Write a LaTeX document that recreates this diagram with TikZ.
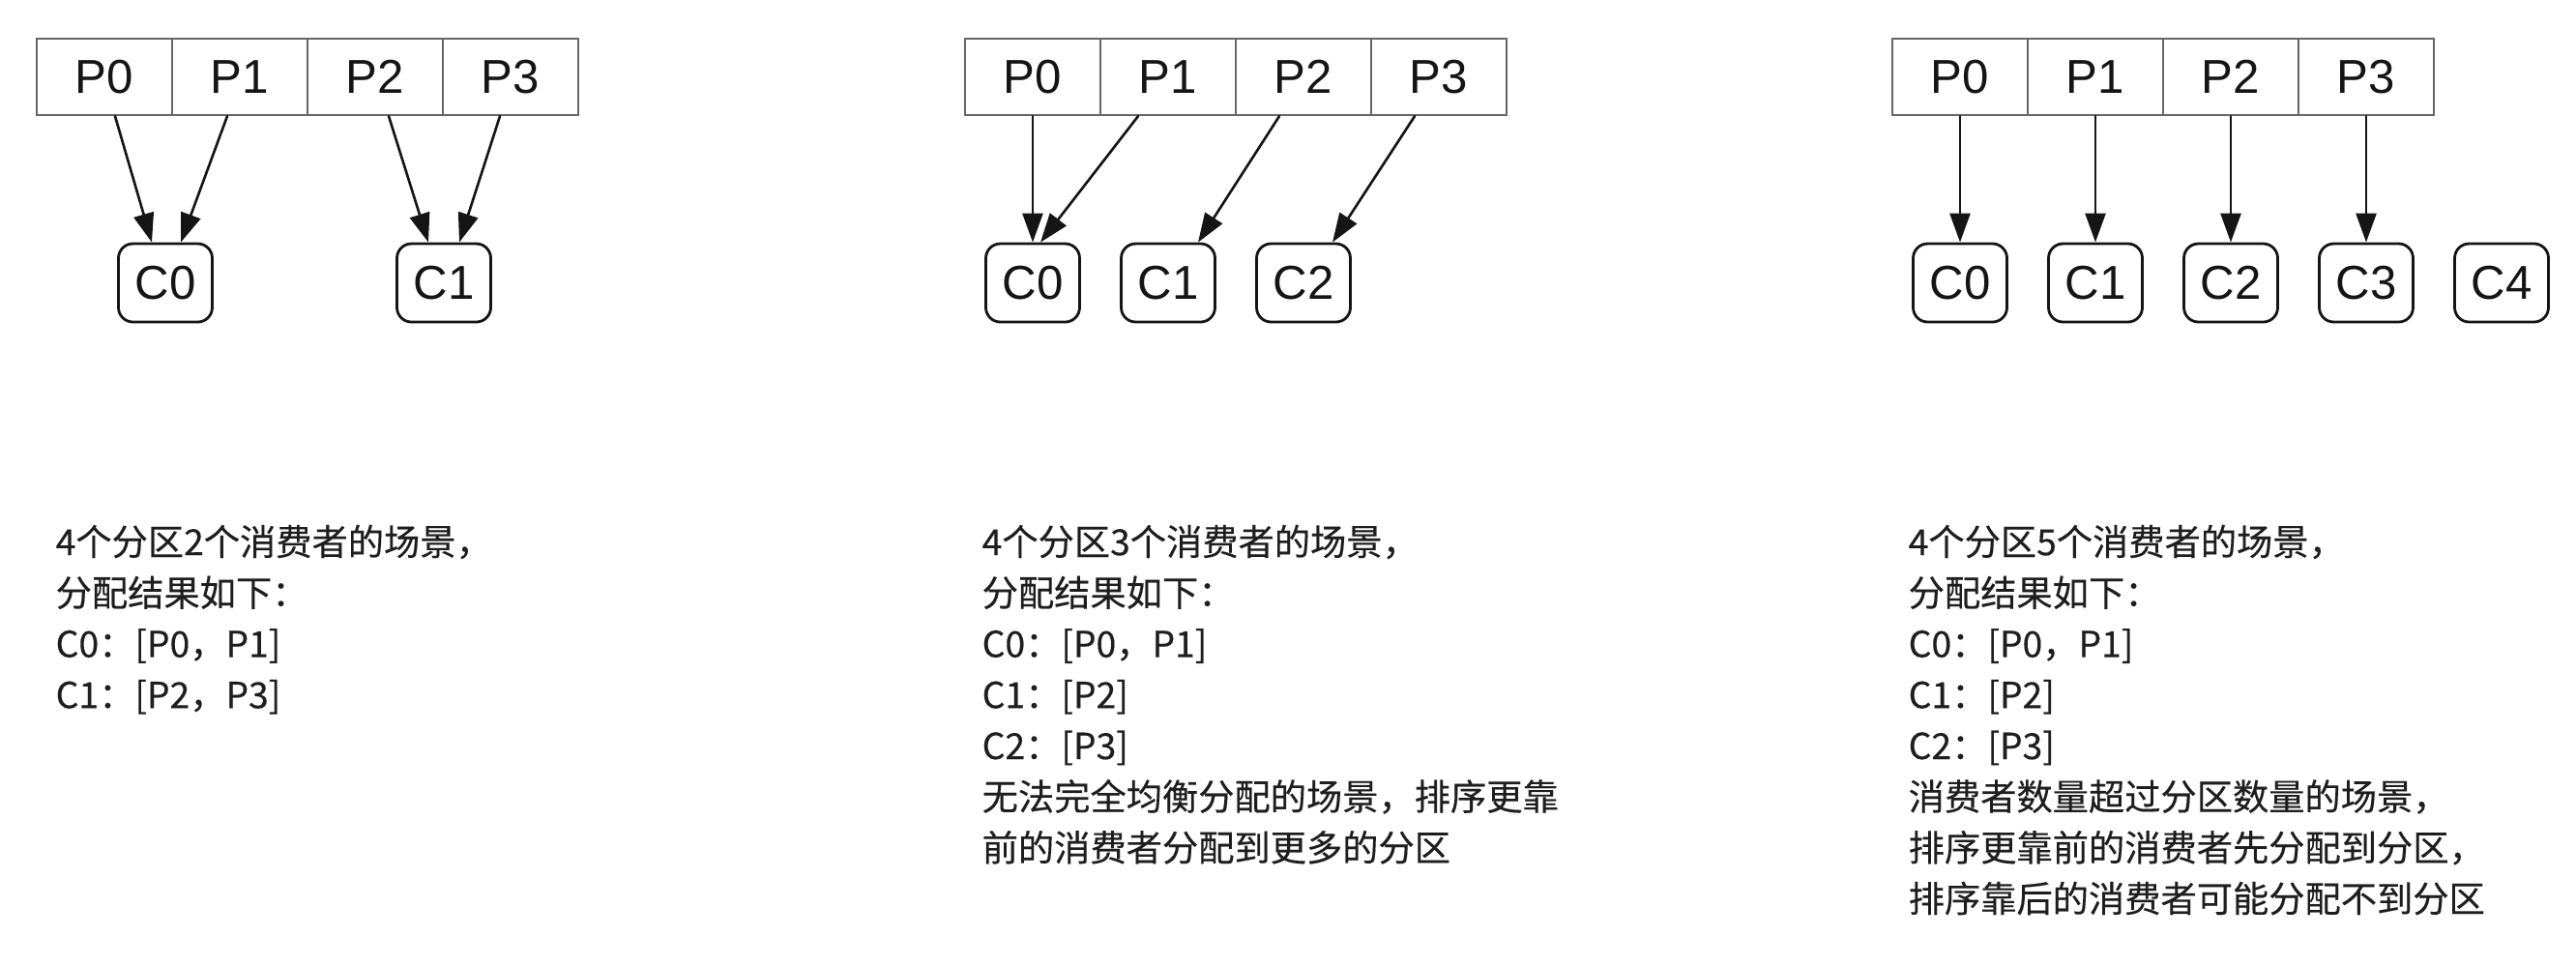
\documentclass[tikz,border=0pt]{standalone}
\usepackage{fontspec}
\setmainfont{Liberation Sans}
\newfontfamily\cjk[FakeBold=0.3]{Noto Sans CJK SC}
\usetikzlibrary{arrows.meta,positioning,calc}
\definecolor{kfgray}{HTML}{666666}
\definecolor{kfink}{HTML}{151515}
\definecolor{kftext}{HTML}{1E1E1E}

\begin{document}
\begin{tikzpicture}[
  x=1cm, y=1cm,
  font=\fontsize{14}{16}\selectfont,
  >={Triangle[length=0.30cm,width=0.21cm]},
  line cap=round,
  part/.style={draw=kfgray, line width=0.65pt, minimum width=1.40cm, minimum height=0.79cm, inner sep=0pt, text=kfink},
  cons/.style={draw=kfink, line width=0.8pt, rounded corners=0.15cm, minimum width=0.97cm, minimum height=0.81cm, inner sep=0pt, text=kfink},
  assign/.style={->, draw=kfink, line width=0.75pt},
  note/.style={anchor=north west, align=left, inner sep=0pt, text=kftext, font=\cjk\fontsize{10.6}{15}\selectfont},
]
\useasboundingbox (0,0) rectangle (26.64,-9.98);

% ---------- (a) 4 partitions, 2 consumers ----------
\begin{scope}[shift={(0.38,0)}]
  \foreach \i in {0,...,3}
    \node[part] (a\i) at ({0.70+1.40*\i},-0.795) {P\i};
  \node[cons] (ac0) at (1.33,-2.925) {C0};
  \node[cons] (ac1) at (4.21,-2.925) {C1};
  \draw[assign] ([xshift=0.11cm]a0.south) -- ([xshift=-0.14cm]ac0.north);
  \draw[assign] ([xshift=-0.13cm]a1.south) -- ([xshift=0.16cm]ac0.north);
  \draw[assign] ([xshift=0.14cm]a2.south) -- ([xshift=-0.16cm]ac1.north);
  \draw[assign] ([xshift=-0.11cm]a3.south) -- ([xshift=0.16cm]ac1.north);
  \node[note] (anote) at (0.19,-5.42) {4个分区2个消费者的场景，\\
    分配结果如下：\\
    C0：[P0，P1]\\
    C1：[P2，P3]};
\end{scope}

% ---------- (b) 4 partitions, 3 consumers ----------
\begin{scope}[shift={(9.98,0)}]
  \foreach \i in {0,...,3}
    \node[part] (b\i) at ({0.70+1.40*\i},-0.795) {P\i};
  \foreach \i in {0,...,2}
    \node[cons] (bc\i) at ({0.70+1.40*\i},-2.925) {C\i};
  \draw[assign] (b0.south) -- (bc0.north);
  \draw[assign] ([xshift=-0.31cm]b1.south) -- ([xshift=0.08cm]bc0.north);
  \draw[assign] ([xshift=-0.25cm]b2.south) -- ([xshift=0.31cm]bc1.north);
  \draw[assign] ([xshift=-0.25cm]b3.south) -- ([xshift=0.30cm]bc2.north);
  \node[note] (bnote) at (0.17,-5.42) {4个分区3个消费者的场景，\\
    分配结果如下：\\
    C0：[P0，P1]\\
    C1：[P2]\\
    C2：[P3]\\
    无法完全均衡分配的场景，排序更靠\\
    前的消费者分配到更多的分区};
\end{scope}

% ---------- (c) 4 partitions, 5 consumers ----------
\begin{scope}[shift={(19.57,0)}]
  \foreach \i in {0,...,3}
    \node[part] (c\i) at ({0.70+1.40*\i},-0.795) {P\i};
  \foreach \i in {0,...,4}
    \node[cons] (cc\i) at ({0.70+1.40*\i},-2.925) {C\i};
  \foreach \i in {0,...,3}
    \draw[assign] (c\i.south) -- (cc\i.north);
  \node[note] (cnote) at (0.16,-5.42) {4个分区5个消费者的场景，\\
    分配结果如下：\\
    C0：[P0，P1]\\
    C1：[P2]\\
    C2：[P3]\\
    消费者数量超过分区数量的场景，\\
    排序更靠前的消费者先分配到分区，\\
    排序靠后的消费者可能分配不到分区};
\end{scope}
\end{tikzpicture}
\end{document}
